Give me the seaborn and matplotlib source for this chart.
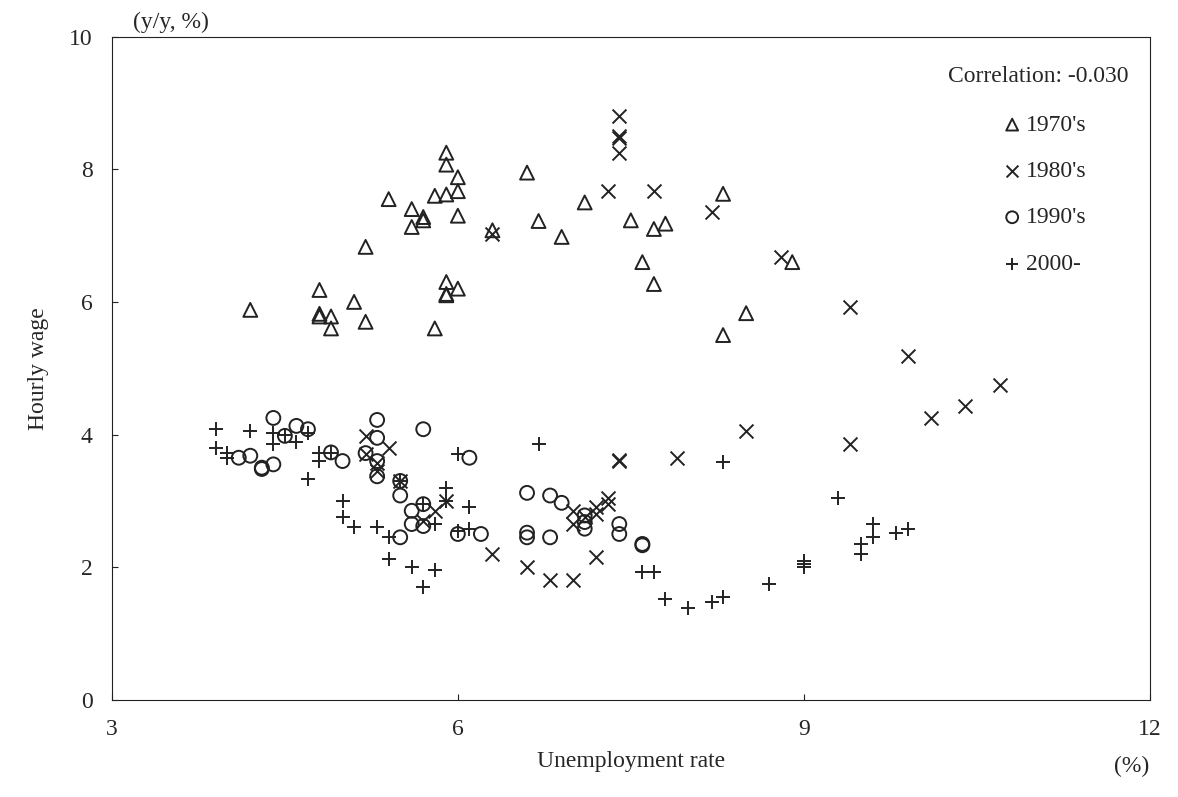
import pandas as pd
import matplotlib.pyplot as plt
import seaborn as sns

# decade groups: (unemployment rate, hourly wage y/y)
x70 = [4.2, 4.8, 4.8, 4.8, 4.9, 4.9, 5.1, 5.2, 5.2, 5.4, 5.6, 5.6, 5.7, 5.7, 5.8, 5.8, 5.9, 5.9, 5.9, 5.9,
       5.9, 5.9, 6.0, 6.0, 6.0, 6.0, 6.3, 6.6, 6.7, 6.9, 7.1, 7.5, 7.6, 7.7, 7.7, 7.8, 8.3, 8.3, 8.5, 8.9]
y70 = [5.88, 6.18, 5.82, 5.78, 5.78, 5.6, 6.0, 5.7, 6.83, 7.55, 7.4, 7.13, 7.28, 7.23, 7.6, 5.6, 8.25, 8.07, 7.62, 6.3,
       6.12, 6.1, 7.88, 7.67, 7.3, 6.2, 7.08, 7.95, 7.22, 6.98, 7.5, 7.23, 6.6, 7.1, 6.27, 7.18, 7.63, 5.5, 5.83, 6.6]

x80 = [6.3, 7.3, 7.4, 7.4, 7.4, 7.4, 7.7, 8.2, 8.8, 9.4, 9.9, 10.1, 10.4, 10.7, 9.4, 8.5, 7.9, 7.4, 7.4, 7.2,
       7.0, 6.8, 6.6, 6.3, 7.0, 7.1, 7.2, 7.3, 7.3, 7.0, 5.2, 5.2, 5.4, 5.3, 5.3, 5.5, 5.7, 5.8, 5.9, 7.2]
y80 = [7.03, 7.68, 8.8, 8.5, 8.47, 8.25, 7.67, 7.36, 6.68, 5.93, 5.18, 4.25, 4.43, 4.75, 3.85, 4.05, 3.65, 3.6, 3.62, 2.15,
       1.8, 1.8, 2.0, 2.2, 2.65, 2.75, 2.9, 3.05, 2.95, 2.85, 3.98, 3.7, 3.8, 3.45, 3.57, 3.3, 2.7, 2.85, 3.0, 2.8]

x90 = [4.1, 4.2, 4.3, 4.3, 4.4, 4.4, 4.5, 4.6, 4.7, 4.9, 5.0, 5.2, 5.3, 5.3, 5.3, 5.3, 5.5, 5.5, 5.5, 5.6,
       5.6, 5.7, 5.7, 5.7, 6.0, 6.1, 6.2, 6.6, 6.6, 6.6, 6.8, 6.8, 6.9, 7.1, 7.1, 7.1, 7.4, 7.4, 7.6, 7.6]
y90 = [3.65, 3.68, 3.5, 3.48, 3.55, 4.25, 3.98, 4.13, 4.08, 3.73, 3.6, 3.72, 4.22, 3.95, 3.6, 3.37, 3.3, 3.08, 2.45, 2.85,
       2.65, 2.95, 2.62, 4.08, 2.5, 3.65, 2.5, 3.12, 2.52, 2.45, 3.08, 2.45, 2.97, 2.78, 2.68, 2.58, 2.65, 2.5, 2.35, 2.33]

x00 = [3.9, 3.9, 4.0, 4.0, 4.2, 4.4, 4.4, 4.5, 4.6, 4.7, 4.7, 4.8, 4.8, 4.9, 5.0, 5.0, 5.1, 5.3, 5.4, 5.4,
       5.6, 5.7, 5.8, 5.8, 5.9, 5.9, 6.0, 6.0, 6.1, 6.1, 5.5, 5.7, 6.7, 7.6, 7.7, 7.8, 8.0, 8.2, 8.3, 8.3,
       8.7, 9.0, 9.0, 9.0, 9.3, 9.5, 9.5, 9.6, 9.6, 9.8, 9.9]
y00 = [4.08, 3.8, 3.72, 3.65, 4.05, 4.03, 3.85, 4.0, 3.88, 4.02, 3.33, 3.72, 3.6, 3.72, 3.0, 2.75, 2.6, 2.6, 2.45, 2.12,
       2.0, 1.7, 1.95, 2.65, 3.2, 3.0, 3.7, 2.55, 2.9, 2.57, 3.3, 2.95, 3.85, 1.92, 1.92, 1.52, 1.38, 1.48, 1.55, 3.58,
       1.75, 2.1, 2.05, 2.0, 3.05, 2.35, 2.2, 2.65, 2.45, 2.52, 2.58]

labels = ["1970's", "1980's", "1990's", "2000-"]
correlation = -0.030

df = pd.concat([
    pd.DataFrame({"u": x70, "w": y70, "period": labels[0]}),
    pd.DataFrame({"u": x80, "w": y80, "period": labels[1]}),
    pd.DataFrame({"u": x90, "w": y90, "period": labels[2]}),
    pd.DataFrame({"u": x00, "w": y00, "period": labels[3]}),
])

sns.set_style("ticks")
plt.rcParams['font.family'] = ['Liberation Serif', 'DejaVu Serif']

fig = plt.figure(figsize=(11.78, 7.97), dpi=100)
ax = fig.add_axes([0.095, 0.122, 0.881, 0.832])

markers = {labels[0]: "^", labels[1]: "x", labels[2]: "o", labels[3]: "+"}
for lab in labels:
    sub = df[df.period == lab]
    if markers[lab] in ("x", "+"):
        ax.scatter(sub.u, sub.w, marker=markers[lab], s=100, color="#222222", linewidths=1.4, label=lab)
    else:
        ax.scatter(sub.u, sub.w, marker=markers[lab], s=100, facecolors="none",
                   edgecolors="#222222", linewidths=1.4, label=lab)

ax.set_xlim(3, 12)
ax.set_ylim(0, 10)
ax.set_xticks([3, 6, 9, 12])
ax.set_yticks([0, 2, 4, 6, 8, 10])
ax.tick_params(labelsize=17, direction="in", length=4, color="#222222", pad=14)
for sp in ax.spines.values():
    sp.set_color("#222222")
ax.set_xlabel("Unemployment rate", fontsize=17, labelpad=8)
ax.set_ylabel("Hourly wage", fontsize=17, labelpad=14)
ax.text(0.02, 1.005, "(y/y, %)", transform=ax.transAxes, fontsize=17, ha="left", va="bottom")
ax.text(1.0, -0.085, "(%)", transform=ax.transAxes, fontsize=17, ha="right", va="top")
ax.text(0.98, 0.94, f"Correlation: {correlation:.3f}", transform=ax.transAxes, fontsize=17,
        ha="right", va="center")
ax.legend(loc="upper right", bbox_to_anchor=(0.96, 0.915), frameon=False, fontsize=17,
          handletextpad=0.0, handlelength=1.2, labelspacing=1.05, markerscale=0.85)

fig.savefig("out.png", dpi=100)
